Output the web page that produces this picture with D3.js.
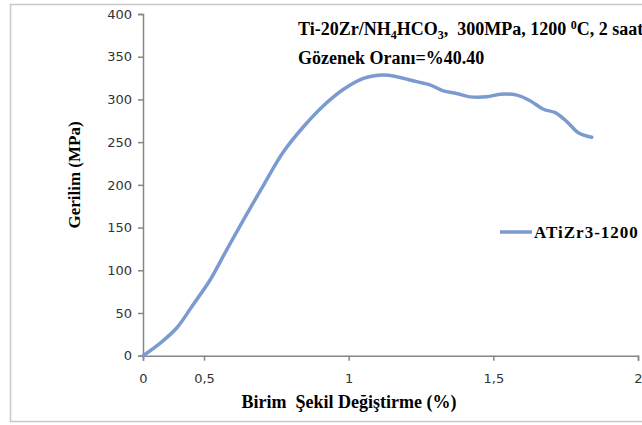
<!DOCTYPE html>
<html>
<head>
<meta charset="utf-8">
<script src="https://cdn.jsdelivr.net/npm/d3@7"></script>
<style>
  body { margin: 0; background: #fff; }
  svg { display: block; }
</style>
</head>
<body>
<div id="chart"></div>
<script>
// strain (%) and stress (MPa)
var strain = [0, 0.139, 0.276, 0.412, 0.521, 0.578, 0.636, 0.705, 0.774, 0.843, 0.912, 0.981, 1.051,
              1.120, 1.166, 1.235, 1.281, 1.327, 1.373, 1.419, 1.477, 1.523, 1.581, 1.627, 1.673,
              1.714, 1.754, 1.794, 1.840];
var stress = [0, 14.5, 32.4, 60, 88.6, 123.7, 158.8, 199.2, 238.4, 267.7, 292.3, 311.6, 324.7,
              328.6, 326.6, 320.8, 317, 310, 307, 303, 303, 306, 305, 298.5, 288.5,
              284.5, 274, 261, 255.7];

var xTicks = [0, 0.5, 1, 1.5, 2];
var yTicks = [0, 50, 100, 150, 200, 250, 300, 350, 400];
var seriesName = "ATiZr3-1200";

function init(){
    var w = 642, h = 425;

    var svg = d3.select("#chart").append("svg")
        .attr("width", w)
        .attr("height", h);

    // outer frame
    svg.append("rect")
        .attr("x", 10.5).attr("y", 4.5)
        .attr("width", 640).attr("height", 417)
        .attr("fill", "#fff")
        .attr("stroke", "#c8c8c8")
        .attr("stroke-width", 1.5);

    // the original axis is not evenly spaced between 0 and 0,5
    var x = d3.scaleLinear()
        .domain([0, 0.5, 2])
        .range([143, 204, 638]);

    var y = d3.scaleLinear()
        .domain([0, 400])
        .range([355.7, 14]);

    var fmt = function(d){ return String(d).replace(".", ","); };

    var xAxis = svg.append("g")
        .attr("transform", "translate(0," + y(0) + ")")
        .call(d3.axisBottom(x).tickValues(xTicks).tickFormat(fmt).tickSize(5).tickPadding(13));

    var yAxis = svg.append("g")
        .attr("transform", "translate(" + x(0) + ",0)")
        .call(d3.axisLeft(y).tickValues(yTicks).tickSize(5).tickPadding(6));

    [xAxis, yAxis].forEach(function(g){
        g.select(".domain").attr("stroke", "#868686").attr("stroke-width", 1.5);
        g.selectAll(".tick line").attr("stroke", "#868686").attr("stroke-width", 1.5);
        g.selectAll(".tick text")
            .attr("fill", "#333")
            .style("font-family", "'DejaVu Sans', sans-serif")
            .style("font-size", "13px");
    });

    var pts = strain.map(function(d, i){ return [d, stress[i]]; });

    var line = d3.line()
        .x(function(d){ return x(d[0]); })
        .y(function(d){ return y(d[1]); })
        .curve(d3.curveCatmullRom);

    svg.append("path")
        .datum(pts)
        .attr("d", line)
        .attr("fill", "none")
        .attr("stroke", "#7b9bd0")
        .attr("stroke-width", 3.5)
        .attr("stroke-linecap", "round")
        .attr("stroke-linejoin", "round");

    var serif = "'Liberation Serif', 'Times New Roman', serif";

    // title lines
    var t1 = svg.append("text")
        .attr("x", 298).attr("y", 35)
        .style("font-family", serif).style("font-weight", "bold").style("font-size", "18px")
        .style("white-space", "pre");
    t1.append("tspan").text("Ti-20Zr/NH");
    t1.append("tspan").attr("dy", 4).style("font-size", "12px").text("4");
    t1.append("tspan").attr("dy", -4).text("HCO");
    t1.append("tspan").attr("dy", 4).style("font-size", "12px").text("3");
    t1.append("tspan").attr("dy", -4).text(",  300MPa, 1200 ");
    t1.append("tspan").attr("dy", -6).style("font-size", "12px").text("0");
    t1.append("tspan").attr("dy", 6).text("C, 2 saat");

    svg.append("text")
        .attr("x", 298).attr("y", 64)
        .style("font-family", serif).style("font-weight", "bold").style("font-size", "18px")
        .text("Gözenek Oranı=%40.40");

    // axis titles
    svg.append("text")
        .attr("x", 349).attr("y", 408)
        .attr("text-anchor", "middle")
        .style("font-family", serif).style("font-weight", "bold").style("font-size", "18px")
        .style("white-space", "pre")
        .text("Birim  Şekil Değiştirme (%)");

    svg.append("text")
        .attr("transform", "translate(80,175) rotate(-90)")
        .attr("text-anchor", "middle")
        .style("font-family", serif).style("font-weight", "bold").style("font-size", "17px")
        .text("Gerilim (MPa)");

    // legend
    var lg = svg.append("g").attr("transform", "translate(500,232)");
    lg.append("line")
        .attr("x1", 0).attr("x2", 32)
        .attr("stroke", "#7b9bd0").attr("stroke-width", 3.5);
    lg.append("text")
        .attr("x", 34).attr("y", 5.5)
        .style("font-family", serif).style("font-weight", "bold").style("font-size", "17px")
        .style("letter-spacing", "1px")
        .text(seriesName);
}
window.onload = init;
</script>
</body>
</html>
